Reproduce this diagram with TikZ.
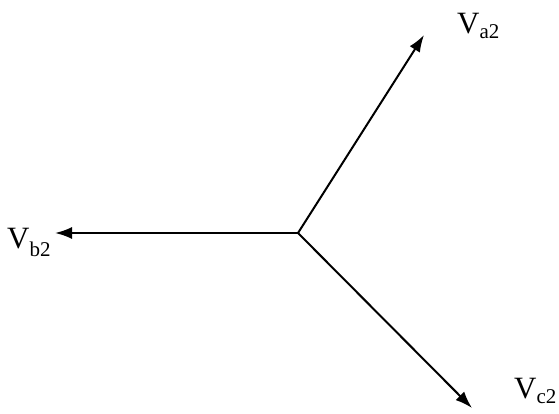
\documentclass[tikz,border=0pt]{standalone}
\usepackage{fontspec}
\setmainfont{Liberation Serif}
\usetikzlibrary{arrows.meta}
\tikzset{
  phasor/.style={line width=2pt, -{Latex[length=17pt,width=12pt]}},
  lbl/.style={inner sep=0pt, anchor=base west, font=\fontsize{31}{31}\selectfont}
}
\newcommand{\phsub}[2]{\raisebox{-#2}{\fontsize{21}{21}\selectfont #1}}
\begin{document}
\begin{tikzpicture}[x=1pt,y=-1pt]
\useasboundingbox (0,0) rectangle (559,414);
\coordinate (o) at (298,233);
\coordinate (ta) at (424,35);
\coordinate (tb) at (55,233);
\coordinate (tc) at (472,408);
\draw[phasor] (o) -- (ta);
\draw[phasor] (o) -- (tb);
\draw[phasor] (o) -- (tc);
\node[lbl] (la) at (457,34) {V\phsub{a2}{5pt}};
\node[lbl] (lb) at (7,248) {V\phsub{b2}{8pt}};
\node[lbl] (lc) at (514,398) {V\phsub{c2}{5pt}};
\end{tikzpicture}
\end{document}
